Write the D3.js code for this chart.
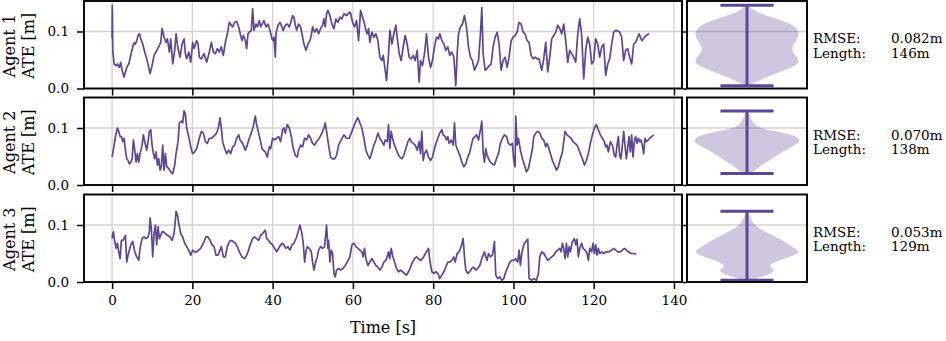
<!DOCTYPE html>
<html>
<head>
<meta charset="utf-8">
<script src="https://cdn.jsdelivr.net/npm/d3@7"></script>
<style>
  body { margin: 0; background: #fff; }
  text { font-family: "DejaVu Serif", serif; }
</style>
</head>
<body>
<div id="chart"></div>
<script>
// ---- data ----
var agents = ["Agent 1", "Agent 2", "Agent 3"];
var rmseText = ["0.082m", "0.070m", "0.053m"];
var lengthText = ["146m", "138m", "129m"];
var timeTicks = [0, 20, 40, 60, 80, 100, 120, 140];
var ateTicks = [0.0, 0.1];

// [time s, ATE m]
var agent1 = [[0,0.088],[0.05,0.146],[0.17,0.067],[0.5,0.043],[1.0,0.040],[1.33,0.043],[1.83,0.037],[2.16,0.046],[2.49,0.032],[2.99,0.020],[3.32,0.029],[3.65,0.037],[4.15,0.043],[4.65,0.058],[5.15,0.073],[5.48,0.080],[5.81,0.078],[6.14,0.084],[6.47,0.093],[6.81,0.096],[7.14,0.087],[7.64,0.078],[8.13,0.064],[8.63,0.052],[9.13,0.037],[9.46,0.026],[9.96,0.040],[10.46,0.058],[11.12,0.067],[11.62,0.073],[12.12,0.081],[12.45,0.105],[12.95,0.090],[13.45,0.081],[13.78,0.087],[14.28,0.064],[14.61,0.087],[15.11,0.043],[15.6,0.067],[15.94,0.096],[16.43,0.070],[16.93,0.055],[17.43,0.078],[17.93,0.087],[18.26,0.061],[18.59,0.052],[19.09,0.064],[19.59,0.046],[20.08,0.081],[20.42,0.070],[21.08,0.084],[21.41,0.078],[21.74,0.055],[22.24,0.052],[22.9,0.061],[23.57,0.046],[24.23,0.064],[24.73,0.081],[25.23,0.064],[25.73,0.061],[26.22,0.070],[26.72,0.064],[27.22,0.073],[27.72,0.058],[28.22,0.081],[28.71,0.096],[29.21,0.116],[29.54,0.113],[30.04,0.108],[30.54,0.116],[31.04,0.118],[31.54,0.108],[32.03,0.093],[32.37,0.084],[32.7,0.093],[33.2,0.084],[33.53,0.070],[33.86,0.096],[34.19,0.099],[34.69,0.102],[35.02,0.140],[35.36,0.102],[35.85,0.113],[36.19,0.108],[36.68,0.119],[37.02,0.108],[37.35,0.113],[37.85,0.119],[38.35,0.108],[38.84,0.113],[39.34,0.102],[39.84,0.087],[40.17,0.084],[40.34,0.090],[40.67,0.055],[40.83,0.096],[41.33,0.111],[41.83,0.116],[42.32,0.108],[42.66,0.102],[43.16,0.111],[43.65,0.113],[44.15,0.108],[44.65,0.119],[44.98,0.128],[45.31,0.125],[45.65,0.111],[45.98,0.102],[46.48,0.113],[46.97,0.108],[47.31,0.096],[47.8,0.078],[48.3,0.067],[48.8,0.078],[49.3,0.084],[49.63,0.093],[49.96,0.108],[50.46,0.099],[50.96,0.105],[51.46,0.096],[51.95,0.105],[52.45,0.111],[52.78,0.122],[53.11,0.108],[53.44,0.131],[53.78,0.137],[54.27,0.128],[54.77,0.113],[55.27,0.105],[55.77,0.122],[56.27,0.116],[56.76,0.125],[57.26,0.122],[57.76,0.131],[58.43,0.128],[59.25,0.134],[59.42,0.132],[59.92,0.116],[60.41,0.108],[60.91,0.119],[61.41,0.084],[61.91,0.137],[62.41,0.125],[62.9,0.113],[63.24,0.102],[63.57,0.096],[63.9,0.105],[64.23,0.081],[64.73,0.099],[65.23,0.090],[65.73,0.096],[66.22,0.084],[66.72,0.055],[67.22,0.049],[67.55,0.058],[68.05,0.032],[68.38,0.014],[68.88,0.061],[69.21,0.102],[69.71,0.078],[70.21,0.096],[70.71,0.111],[71.04,0.090],[71.54,0.061],[72.03,0.049],[72.53,0.073],[73.03,0.093],[73.53,0.078],[74.02,0.055],[74.52,0.052],[75.02,0.058],[75.52,0.049],[76.02,0.067],[76.51,0.011],[76.85,0.049],[77.34,0.040],[77.84,0.061],[78.34,0.096],[78.84,0.055],[79.34,0.037],[79.83,0.049],[80.33,0.073],[80.83,0.090],[81.33,0.087],[81.66,0.096],[82.16,0.084],[82.66,0.078],[83.15,0.067],[83.65,0.073],[84.15,0.058],[84.65,0.064],[85.15,0.055],[85.64,0.005],[85.98,0.061],[86.31,0.096],[86.81,0.108],[87.3,0.113],[87.8,0.128],[88.3,0.108],[88.8,0.073],[89.29,0.055],[89.79,0.049],[90.29,0.032],[90.79,0.040],[91.29,0.049],[91.78,0.096],[92.12,0.142],[92.45,0.061],[92.95,0.032],[93.44,0.035],[93.94,0.040],[94.44,0.043],[94.94,0.073],[95.44,0.090],[95.93,0.099],[96.43,0.078],[96.93,0.032],[97.43,0.049],[97.93,0.055],[98.42,0.037],[98.92,0.055],[99.42,0.084],[99.92,0.090],[100.41,0.093],[100.91,0.099],[101.41,0.116],[101.91,0.113],[102.41,0.099],[102.9,0.096],[103.4,0.084],[103.9,0.081],[104.4,0.058],[104.9,0.052],[105.39,0.055],[105.89,0.052],[106.39,0.052],[107.05,0.032],[107.55,0.052],[108.05,0.081],[108.55,0.029],[109.05,0.055],[109.54,0.087],[110.04,0.093],[110.54,0.099],[111.04,0.111],[111.54,0.105],[112.03,0.096],[112.53,0.113],[113.03,0.084],[113.53,0.046],[114.02,0.067],[114.52,0.061],[115.02,0.055],[115.52,0.046],[116.02,0.096],[116.51,0.122],[117.01,0.093],[117.51,0.017],[118.01,0.067],[118.51,0.090],[119.0,0.078],[119.5,0.043],[120.0,0.049],[120.5,0.087],[121.0,0.078],[121.49,0.055],[121.99,0.073],[122.49,0.078],[122.99,0.023],[123.49,0.043],[123.98,0.052],[124.48,0.078],[124.98,0.099],[125.48,0.102],[125.98,0.101],[126.47,0.099],[126.97,0.090],[127.47,0.049],[127.97,0.067],[128.46,0.070],[128.96,0.055],[129.46,0.043],[129.96,0.078],[130.46,0.081],[130.95,0.090],[131.29,0.096],[131.79,0.087],[132.12,0.084],[132.61,0.090],[133.11,0.093],[133.78,0.096]];

var agent2 = [[0,0.049],[0.5,0.070],[0.83,0.085],[1.33,0.100],[1.66,0.094],[1.99,0.085],[2.32,0.085],[2.66,0.076],[2.99,0.082],[3.32,0.061],[3.65,0.046],[3.98,0.043],[4.32,0.037],[4.65,0.040],[4.98,0.046],[5.31,0.079],[5.64,0.061],[5.98,0.040],[6.31,0.055],[6.64,0.040],[6.97,0.055],[7.47,0.070],[7.8,0.088],[8.13,0.076],[8.63,0.061],[8.96,0.076],[9.29,0.094],[9.63,0.097],[9.96,0.070],[10.29,0.055],[10.62,0.046],[10.95,0.058],[11.29,0.035],[11.62,0.046],[11.95,0.026],[12.28,0.032],[12.61,0.070],[12.95,0.026],[13.28,0.055],[13.61,0.032],[14.11,0.029],[14.61,0.023],[15.1,0.020],[15.6,0.035],[15.93,0.055],[16.43,0.076],[16.76,0.109],[17.26,0.112],[17.59,0.109],[17.93,0.130],[18.26,0.124],[18.59,0.100],[19.09,0.085],[19.59,0.067],[20.08,0.055],[20.58,0.058],[21.08,0.064],[21.74,0.082],[22.24,0.094],[22.74,0.091],[23.24,0.076],[23.73,0.073],[24.23,0.082],[24.73,0.082],[25.23,0.085],[26.06,0.091],[26.56,0.103],[26.89,0.118],[27.22,0.100],[27.55,0.076],[28.05,0.064],[28.55,0.055],[29.05,0.061],[29.54,0.055],[30.04,0.067],[30.54,0.070],[31.04,0.082],[31.54,0.088],[31.87,0.079],[32.53,0.073],[33.2,0.061],[33.69,0.070],[34.19,0.082],[34.69,0.091],[35.19,0.103],[35.68,0.121],[36.02,0.106],[36.51,0.091],[37.01,0.076],[37.34,0.064],[37.68,0.061],[38.17,0.058],[38.67,0.049],[39.17,0.067],[39.5,0.064],[40.0,0.082],[40.5,0.079],[41.0,0.082],[41.49,0.085],[41.99,0.076],[42.49,0.097],[42.82,0.100],[43.15,0.091],[43.65,0.106],[44.15,0.100],[44.65,0.085],[45.15,0.064],[45.64,0.052],[46.14,0.049],[46.47,0.061],[46.97,0.070],[47.47,0.067],[47.97,0.082],[48.46,0.079],[48.96,0.088],[49.46,0.082],[49.96,0.073],[50.46,0.070],[50.95,0.076],[51.62,0.082],[52.28,0.091],[52.78,0.100],[53.11,0.109],[53.44,0.094],[53.94,0.070],[54.44,0.049],[54.94,0.046],[55.44,0.046],[55.93,0.052],[56.43,0.070],[57.1,0.079],[57.76,0.088],[58.42,0.082],[59.09,0.082],[59.75,0.094],[60.25,0.103],[60.75,0.112],[61.24,0.118],[61.74,0.109],[62.24,0.100],[62.74,0.082],[63.24,0.061],[63.73,0.052],[64.23,0.046],[64.73,0.058],[65.23,0.070],[65.73,0.079],[66.22,0.091],[66.72,0.082],[67.22,0.076],[67.72,0.070],[68.05,0.079],[68.55,0.076],[68.88,0.106],[69.21,0.064],[69.54,0.094],[69.88,0.082],[70.21,0.073],[70.71,0.064],[71.2,0.055],[71.7,0.049],[72.2,0.046],[72.7,0.052],[73.2,0.064],[73.69,0.076],[74.19,0.082],[74.52,0.076],[75.02,0.073],[75.52,0.070],[76.02,0.061],[76.51,0.076],[76.85,0.055],[77.18,0.094],[77.51,0.043],[77.84,0.055],[78.34,0.061],[78.84,0.049],[79.34,0.043],[79.83,0.049],[80.33,0.064],[80.83,0.076],[81.33,0.085],[81.66,0.091],[82.16,0.097],[82.49,0.088],[82.99,0.085],[83.32,0.079],[83.65,0.085],[83.98,0.073],[84.48,0.079],[84.98,0.070],[85.31,0.109],[85.64,0.070],[86.14,0.061],[86.64,0.052],[87.14,0.040],[87.63,0.032],[88.13,0.037],[88.63,0.049],[89.13,0.058],[89.63,0.073],[89.96,0.082],[90.46,0.085],[90.79,0.088],[91.29,0.079],[91.78,0.097],[92.12,0.112],[92.45,0.058],[92.78,0.040],[93.11,0.064],[93.44,0.052],[93.78,0.046],[94.27,0.040],[94.77,0.037],[95.27,0.035],[95.77,0.046],[96.27,0.055],[96.76,0.073],[97.26,0.082],[97.76,0.088],[98.26,0.085],[98.76,0.073],[99.25,0.070],[99.75,0.073],[100.08,0.043],[100.41,0.032],[100.58,0.121],[100.91,0.070],[101.24,0.082],[101.74,0.061],[102.24,0.046],[102.74,0.035],[103.24,0.023],[103.73,0.029],[104.23,0.046],[104.73,0.064],[105.06,0.085],[105.56,0.091],[106.06,0.094],[106.56,0.091],[107.05,0.082],[107.55,0.079],[108.05,0.067],[108.38,0.073],[108.71,0.067],[109.21,0.055],[109.71,0.043],[110.21,0.035],[110.71,0.026],[111.2,0.032],[111.7,0.046],[112.2,0.058],[112.53,0.076],[112.86,0.094],[113.36,0.088],[113.86,0.085],[114.36,0.082],[114.85,0.076],[115.35,0.073],[115.85,0.070],[116.18,0.064],[116.68,0.055],[117.18,0.046],[117.68,0.035],[118.17,0.043],[118.67,0.055],[119.17,0.073],[119.67,0.088],[120.17,0.100],[120.66,0.106],[121.16,0.097],[121.66,0.088],[122.16,0.082],[122.66,0.076],[122.99,0.067],[123.32,0.070],[123.65,0.058],[124.15,0.076],[124.65,0.070],[125.15,0.052],[125.48,0.049],[125.81,0.070],[126.14,0.085],[126.47,0.052],[126.8,0.046],[127.14,0.070],[127.47,0.094],[127.8,0.070],[128.13,0.046],[128.46,0.064],[128.8,0.085],[129.13,0.058],[129.46,0.088],[129.79,0.049],[130.12,0.076],[130.46,0.085],[130.79,0.073],[131.12,0.082],[131.45,0.076],[131.78,0.079],[132.12,0.070],[132.45,0.055],[132.78,0.082],[133.11,0.076],[133.61,0.079],[133.94,0.082],[134.44,0.085],[134.94,0.088]];

var agent3 = [[0,0.076],[0.17,0.085],[0.33,0.088],[0.66,0.071],[1.0,0.059],[1.33,0.068],[1.66,0.053],[1.99,0.041],[2.32,0.073],[2.66,0.073],[2.99,0.076],[3.32,0.082],[3.65,0.035],[3.98,0.047],[4.32,0.056],[4.65,0.065],[5.15,0.071],[5.64,0.053],[6.14,0.044],[6.64,0.038],[6.97,0.059],[7.47,0.076],[7.97,0.079],[8.46,0.076],[8.96,0.079],[9.29,0.088],[9.46,0.112],[9.79,0.094],[10.12,0.044],[10.46,0.085],[10.79,0.100],[11.12,0.065],[11.45,0.097],[11.78,0.076],[12.12,0.082],[12.45,0.088],[12.78,0.088],[13.28,0.085],[13.78,0.082],[14.44,0.079],[14.94,0.073],[15.44,0.085],[15.77,0.109],[15.93,0.124],[16.27,0.118],[16.6,0.103],[17.1,0.085],[17.59,0.079],[18.09,0.068],[18.59,0.062],[19.09,0.056],[19.59,0.047],[20.08,0.056],[20.58,0.053],[21.08,0.053],[21.58,0.056],[22.07,0.059],[22.74,0.068],[23.4,0.079],[23.9,0.079],[24.4,0.073],[24.9,0.065],[25.39,0.062],[25.89,0.047],[26.39,0.047],[26.89,0.056],[27.22,0.062],[27.72,0.044],[28.22,0.044],[28.71,0.062],[29.21,0.071],[29.71,0.073],[30.21,0.071],[30.71,0.068],[31.2,0.062],[31.7,0.053],[32.37,0.044],[33.03,0.041],[33.53,0.047],[34.02,0.056],[34.52,0.068],[35.02,0.076],[35.52,0.079],[36.02,0.076],[36.51,0.073],[37.01,0.082],[37.51,0.085],[37.84,0.088],[38.17,0.091],[38.51,0.076],[39.0,0.073],[39.5,0.068],[40.0,0.065],[40.5,0.059],[41.0,0.053],[41.49,0.059],[41.99,0.065],[42.49,0.068],[42.82,0.065],[43.32,0.059],[43.82,0.062],[44.32,0.056],[44.81,0.065],[45.31,0.068],[45.98,0.079],[46.47,0.091],[46.8,0.100],[47.3,0.085],[47.63,0.068],[47.97,0.035],[48.3,0.053],[48.63,0.062],[49.13,0.059],[49.63,0.053],[49.96,0.035],[50.29,0.021],[50.62,0.032],[51.12,0.044],[51.45,0.056],[51.95,0.062],[52.45,0.059],[52.95,0.062],[53.44,0.100],[53.78,0.059],[53.94,0.073],[54.27,0.035],[54.61,0.056],[54.94,0.050],[55.27,0.015],[55.6,0.009],[55.93,0.021],[56.43,0.024],[56.93,0.021],[57.59,0.024],[58.09,0.029],[58.59,0.035],[59.25,0.044],[59.75,0.065],[60.25,0.068],[60.75,0.062],[61.24,0.059],[61.74,0.056],[62.24,0.053],[62.57,0.044],[62.9,0.059],[63.24,0.041],[63.73,0.029],[64.23,0.035],[64.73,0.041],[65.23,0.035],[65.73,0.029],[66.22,0.026],[66.72,0.021],[67.22,0.026],[67.72,0.035],[68.22,0.038],[68.55,0.044],[68.88,0.053],[69.21,0.041],[69.54,0.059],[69.88,0.047],[70.37,0.035],[70.87,0.024],[71.37,0.018],[71.87,0.021],[72.37,0.018],[72.86,0.015],[73.36,0.012],[73.86,0.018],[74.36,0.026],[74.85,0.035],[75.35,0.041],[75.85,0.044],[76.35,0.041],[76.85,0.038],[77.34,0.041],[77.84,0.047],[78.34,0.053],[78.84,0.059],[79.17,0.038],[79.67,0.018],[80.17,0.015],[80.66,0.018],[81.16,0.015],[81.66,0.006],[82.16,0.012],[82.66,0.018],[83.15,0.026],[83.65,0.035],[84.15,0.035],[84.65,0.038],[85.15,0.044],[85.48,0.035],[85.98,0.050],[86.47,0.053],[86.97,0.062],[87.47,0.076],[87.8,0.044],[88.13,0.021],[88.63,0.015],[89.13,0.018],[89.63,0.024],[90.12,0.026],[90.62,0.021],[91.12,0.024],[91.62,0.029],[92.12,0.041],[92.45,0.047],[92.78,0.053],[93.11,0.044],[93.44,0.038],[93.78,0.050],[94.27,0.044],[94.77,0.047],[95.27,0.071],[95.6,0.012],[96.1,0.006],[96.6,0.009],[97.09,0.003],[97.59,0.006],[98.09,0.018],[98.59,0.026],[99.09,0.035],[99.59,0.038],[100.08,0.038],[100.58,0.041],[101.08,0.035],[101.41,0.056],[101.74,0.029],[102.07,0.050],[102.57,0.065],[103.07,0.071],[103.57,0.075],[103.9,0.006],[104.56,0.003],[105.06,0.006],[105.73,0.003],[106.22,0.015],[106.56,0.044],[107.05,0.053],[107.55,0.050],[108.05,0.044],[108.55,0.038],[109.05,0.041],[109.54,0.044],[110.04,0.047],[110.54,0.053],[111.04,0.056],[111.54,0.059],[111.87,0.053],[112.2,0.068],[112.53,0.059],[112.86,0.041],[113.2,0.068],[113.53,0.044],[113.86,0.062],[114.19,0.053],[114.69,0.071],[115.19,0.076],[115.52,0.065],[115.85,0.075],[116.18,0.044],[116.51,0.059],[117.01,0.068],[117.34,0.059],[117.84,0.056],[118.34,0.050],[118.67,0.038],[119.0,0.059],[119.5,0.053],[119.83,0.068],[120.17,0.050],[120.5,0.065],[120.83,0.047],[121.16,0.059],[121.49,0.050],[121.99,0.053],[122.49,0.050],[123.15,0.053],[123.82,0.053],[124.48,0.056],[124.98,0.059],[125.48,0.056],[125.98,0.053],[126.64,0.053],[127.14,0.056],[127.63,0.059],[128.13,0.056],[128.63,0.053],[129.29,0.050],[129.96,0.050],[130.62,0.049]];

// violin outlines: [ATE m, relative density]
var violin1 = [[0.146,0.02],[0.140,0.08],[0.131,0.25],[0.122,0.57],[0.113,0.85],[0.099,1.0],[0.084,0.94],[0.070,0.81],[0.055,0.94],[0.046,1.0],[0.037,0.85],[0.029,0.62],[0.020,0.38],[0.011,0.15],[0.005,0.03]];
var violin2 = [[0.130,0.01],[0.127,0.03],[0.115,0.08],[0.106,0.14],[0.100,0.23],[0.094,0.57],[0.088,0.85],[0.082,0.98],[0.076,1.0],[0.070,0.9],[0.061,0.72],[0.052,0.57],[0.043,0.42],[0.035,0.28],[0.026,0.15],[0.020,0.05]];
var violin3 = [[0.124,0.01],[0.118,0.04],[0.103,0.11],[0.094,0.23],[0.085,0.42],[0.076,0.6],[0.068,0.75],[0.059,0.9],[0.053,1.0],[0.047,0.9],[0.040,0.66],[0.032,0.45],[0.026,0.42],[0.021,0.53],[0.015,0.47],[0.009,0.28],[0.003,0.06]];

var series = [agent1, agent2, agent3];
var violins = [violin1, violin2, violin3];

// ---- layout ----
var width = 946, height = 341;
var lineColor = "#5b4798";
var gridColor = "#d3d3d3";
var rowTop = [1, 97.5, 194.5];
var rowH = 87.5;

var svg = d3.select("#chart")
    .append("svg")
    .attr("width", width)
    .attr("height", height);

var x = d3.scaleLinear()
    .domain([-7, 142])
    .range([84, 682]);

// violin width scale (density -> px, mirrored around 0)
var vx = d3.scaleLinear()
    .domain([-1.13, 1.13])
    .range([687, 807]);

series.forEach(function (data, i) {
    var top = rowTop[i], bottom = rowTop[i] + rowH;
    var y = d3.scaleLinear()
        .domain([0, 0.1535])
        .range([bottom, top]);

    // grid
    svg.append("g")
        .selectAll("line")
        .data(timeTicks)
        .enter()
        .append("line")
        .attr("x1", function (d) { return x(d); })
        .attr("x2", function (d) { return x(d); })
        .attr("y1", top)
        .attr("y2", bottom)
        .attr("stroke", gridColor)
        .attr("stroke-width", 1.3);
    [[x.range()[0], x.range()[1]], [vx.range()[0], vx.range()[1]]].forEach(function (r) {
        svg.append("g")
            .selectAll("line")
            .data(ateTicks)
            .enter()
            .append("line")
            .attr("x1", r[0])
            .attr("x2", r[1])
            .attr("y1", function (d) { return y(d); })
            .attr("y2", function (d) { return y(d); })
            .attr("stroke", gridColor)
            .attr("stroke-width", 1.3);
    });

    // ATE line
    var line = d3.line()
        .x(function (d) { return x(d[0]); })
        .y(function (d) { return y(d[1]); });
    svg.append("path")
        .datum(data)
        .attr("d", line)
        .attr("fill", "none")
        .attr("stroke", lineColor)
        .attr("stroke-width", 1.7)
        .attr("stroke-linejoin", "round");

    // violin
    var area = d3.area()
        .y(function (d) { return y(d[0]); })
        .x0(function (d) { return vx(-d[1]); })
        .x1(function (d) { return vx(d[1]); })
        .curve(d3.curveBasis);
    svg.append("path")
        .datum(violins[i])
        .attr("d", area)
        .attr("fill", lineColor)
        .attr("fill-opacity", 0.3);

    var ext = d3.extent(data, function (d) { return d[1]; });
    var bars = svg.append("g")
        .attr("stroke", lineColor)
        .attr("stroke-width", 3);
    bars.append("line")
        .attr("x1", vx(0)).attr("x2", vx(0))
        .attr("y1", y(ext[0])).attr("y2", y(ext[1]));
    bars.selectAll(".cap")
        .data(ext)
        .enter()
        .append("line")
        .attr("x1", vx(-0.5)).attr("x2", vx(0.5))
        .attr("y1", function (d) { return y(d); })
        .attr("y2", function (d) { return y(d); });

    // axes
    var xAxis = svg.append("g")
        .attr("transform", "translate(0," + bottom + ")")
        .call(d3.axisBottom(x)
            .tickValues(timeTicks)
            .tickSize(7)
            .tickPadding(6)
            .tickFormat(i === 2 ? d3.format("d") : ""));
    var yAxis = svg.append("g")
        .attr("transform", "translate(" + x.range()[0] + ",0)")
        .call(d3.axisLeft(y)
            .tickValues(ateTicks)
            .tickSize(7)
            .tickPadding(8)
            .tickFormat(d3.format(".1f")));
    var vAxis = svg.append("g")
        .attr("transform", "translate(" + vx.range()[0] + ",0)")
        .call(d3.axisLeft(y)
            .tickValues(ateTicks)
            .tickSize(4)
            .tickFormat(""));
    [xAxis, yAxis, vAxis].forEach(function (a) {
        a.select(".domain").remove();
        a.selectAll("line").attr("stroke", "#000").attr("stroke-width", 1.5);
        a.selectAll("text")
            .attr("fill", "#000")
            .style("font-family", "'DejaVu Serif', serif")
            .style("font-size", "13.5px");
    });

    // frames
    svg.append("rect")
        .attr("x", x.range()[0]).attr("y", top)
        .attr("width", x.range()[1] - x.range()[0]).attr("height", rowH)
        .attr("fill", "none").attr("stroke", "#000").attr("stroke-width", 1.9);
    svg.append("rect")
        .attr("x", vx.range()[0]).attr("y", top)
        .attr("width", vx.range()[1] - vx.range()[0]).attr("height", rowH)
        .attr("fill", "none").attr("stroke", "#000").attr("stroke-width", 1.9);

    // y label (two lines)
    var cy = top + rowH / 2 + 1;
    svg.append("text")
        .attr("transform", "translate(15," + cy + ") rotate(-90)")
        .attr("text-anchor", "middle")
        .style("font-size", "16px")
        .text(agents[i]);
    svg.append("text")
        .attr("transform", "translate(34," + cy + ") rotate(-90)")
        .attr("text-anchor", "middle")
        .style("font-size", "16px")
        .text("ATE [m]");

    // stats
    var stats = svg.append("g").style("font-size", "13.5px");
    stats.append("text").attr("x", 813).attr("y", top + 42).text("RMSE:");
    stats.append("text").attr("x", 891).attr("y", top + 42).text(rmseText[i]);
    stats.append("text").attr("x", 813).attr("y", top + 56.5).text("Length:");
    stats.append("text").attr("x", 891).attr("y", top + 56.5).text(lengthText[i]);
});

// x label
svg.append("text")
    .attr("x", (x.range()[0] + x.range()[1]) / 2)
    .attr("y", 333)
    .attr("text-anchor", "middle")
    .style("font-size", "16px")
    .text("Time [s]");
</script>
</body>
</html>
